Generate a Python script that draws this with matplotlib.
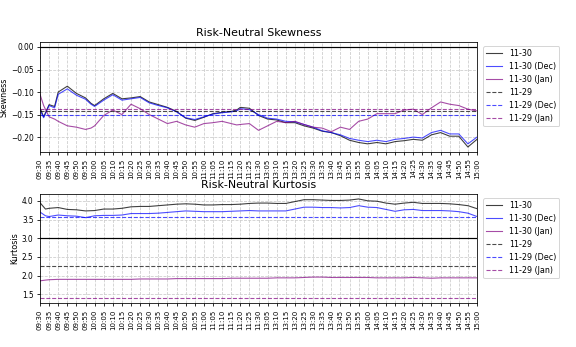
import numpy as np
import matplotlib
matplotlib.use("Agg")
import matplotlib.pyplot as plt

# time axis: 09:30-11:30 and 13:01-15:00, one point per minute, ticks every 5 min
tick_labels = ["09:30", "09:35", "09:40", "09:45", "09:50", "09:55",
               "10:00", "10:05", "10:10", "10:15", "10:20", "10:25",
               "10:30", "10:35", "10:40", "10:45", "10:50", "10:55",
               "11:00", "11:05", "11:10", "11:15", "11:20", "11:25", "11:30",
               "13:05", "13:10", "13:15", "13:20", "13:25", "13:30",
               "13:35", "13:40", "13:45", "13:50", "13:55", "14:00",
               "14:05", "14:10", "14:15", "14:20", "14:25", "14:30",
               "14:35", "14:40", "14:45", "14:50", "14:55", "15:00"]

# sample positions (minute index) and values
skew_x = [0, 2, 5, 8, 10, 15, 20, 25, 28, 30, 35, 40, 45, 50, 55, 60,
          65, 70, 75, 80, 85, 90, 95, 100, 105, 108, 110, 115, 120,
          125, 130, 135, 140, 145, 150, 155, 160, 165, 170, 175,
          180, 185, 190, 195, 200, 205, 210, 215, 220, 225, 230, 235, 240]
skew_1130 = [-0.135, -0.155, -0.128, -0.132, -0.100, -0.087, -0.103, -0.113,
             -0.125, -0.130, -0.115, -0.103, -0.115, -0.113, -0.110, -0.122,
             -0.128, -0.134, -0.143, -0.158, -0.163, -0.156, -0.148,
             -0.145, -0.143, -0.140, -0.134, -0.136, -0.152, -0.160,
             -0.162, -0.168, -0.168, -0.175, -0.180, -0.187, -0.190,
             -0.197, -0.207, -0.212, -0.215, -0.212, -0.215, -0.210,
             -0.208, -0.205, -0.207, -0.195, -0.190, -0.198, -0.198,
             -0.222, -0.205]
skew_1130_dec = [-0.140, -0.157, -0.130, -0.135, -0.105, -0.093, -0.107, -0.116,
                 -0.127, -0.132, -0.118, -0.106, -0.118, -0.115, -0.112, -0.124,
                 -0.130, -0.135, -0.144, -0.157, -0.161, -0.155, -0.149,
                 -0.146, -0.144, -0.142, -0.137, -0.139, -0.150, -0.158,
                 -0.160, -0.165, -0.166, -0.172, -0.178, -0.186, -0.190,
                 -0.195, -0.203, -0.207, -0.210, -0.207, -0.210, -0.205,
                 -0.203, -0.200, -0.202, -0.190, -0.185, -0.193, -0.193,
                 -0.215, -0.200]
skew_1130_jan = [-0.105, -0.130, -0.155, -0.160, -0.165, -0.175, -0.178, -0.183,
                 -0.180, -0.175, -0.152, -0.140, -0.150, -0.127, -0.137, -0.150,
                 -0.160, -0.170, -0.165, -0.173, -0.178, -0.170, -0.168,
                 -0.165, -0.170, -0.173, -0.172, -0.170, -0.185, -0.175,
                 -0.165, -0.168, -0.165, -0.172, -0.178, -0.180, -0.188,
                 -0.178, -0.183, -0.165, -0.160, -0.148, -0.148, -0.148,
                 -0.140, -0.138, -0.150, -0.135, -0.122, -0.127, -0.130,
                 -0.138, -0.142]
skew_1129 = -0.143
skew_1129_dec = -0.151
skew_1129_jan = -0.138

kurt_x = [0, 3, 5, 10, 15, 20, 25, 30, 35, 40, 45, 50, 55, 60, 65, 70,
          75, 80, 85, 90, 95, 100, 105, 110, 115, 120,
          125, 130, 135, 140, 145, 150, 155, 160, 165, 170, 175,
          180, 185, 190, 195, 200, 205, 210, 215, 220, 225, 230, 235, 240]
kurt_1130 = [3.95, 3.78, 3.80, 3.82, 3.77, 3.76, 3.73, 3.74, 3.78, 3.78,
             3.80, 3.84, 3.85, 3.85, 3.87, 3.89, 3.91, 3.92, 3.91, 3.89,
             3.89, 3.90, 3.90, 3.91, 3.93, 3.94, 3.94, 3.93, 3.93, 3.98,
             4.03, 4.03, 4.02, 4.01, 4.01, 4.02, 4.05, 4.00, 3.99, 3.94,
             3.91, 3.94, 3.96, 3.93, 3.93, 3.93, 3.92, 3.90, 3.87, 3.79]
kurt_1130_dec = [3.70, 3.60, 3.58, 3.62, 3.60, 3.59, 3.55, 3.60, 3.61, 3.61,
                 3.62, 3.66, 3.66, 3.66, 3.67, 3.69, 3.71, 3.73, 3.72, 3.71,
                 3.71, 3.71, 3.72, 3.73, 3.74, 3.73, 3.73, 3.73, 3.73, 3.78,
                 3.83, 3.83, 3.82, 3.82, 3.81, 3.82, 3.87, 3.83, 3.82, 3.77,
                 3.72, 3.76, 3.77, 3.74, 3.74, 3.74, 3.73, 3.71, 3.67, 3.58]
kurt_1130_jan = [1.86, 1.88, 1.89, 1.90, 1.90, 1.90, 1.90, 1.90, 1.90, 1.90,
                 1.90, 1.90, 1.91, 1.91, 1.91, 1.91, 1.92, 1.92, 1.92, 1.92,
                 1.92, 1.92, 1.93, 1.93, 1.93, 1.93, 1.93, 1.94, 1.94, 1.94,
                 1.95, 1.96, 1.96, 1.95, 1.95, 1.95, 1.95, 1.95, 1.94, 1.94,
                 1.94, 1.94, 1.95, 1.94, 1.93, 1.94, 1.94, 1.94, 1.94, 1.94]
kurt_1129 = 2.25
kurt_1129_dec = 3.58
kurt_1129_jan = 1.40

labels = ["11-30", "11-30 (Dec)", "11-30 (Jan)",
          "11-29", "11-29 (Dec)", "11-29 (Jan)"]

fig = plt.figure(figsize=(8, 347 / 72), dpi=72)
ax1 = fig.add_axes([40 / 576, 1 - 152 / 347, 437 / 576, 110 / 347])
ax2 = fig.add_axes([40 / 576, 1 - 303 / 347, 437 / 576, 109 / 347])


def draw(ax, x, s, s_dec, s_jan, h, h_dec, h_jan, ref, title, ylab):
    ax.axhline(ref, color="k", lw=1.2)
    ax.plot(x, s, color="k", lw=1.1, alpha=0.75, label=labels[0])
    ax.plot(x, s_dec, color="b", lw=1.1, alpha=0.7, label=labels[1])
    ax.plot(x, s_jan, color="purple", lw=1.1, alpha=0.7, label=labels[2])
    ax.axhline(h, color="k", ls="--", lw=1.1, alpha=0.7, label=labels[3])
    ax.axhline(h_dec, color="b", ls="--", lw=1.1, alpha=0.7, label=labels[4])
    ax.axhline(h_jan, color="purple", ls="--", lw=1.1, alpha=0.7, label=labels[5])
    ax.set_xlim(0, 240)
    ticks = list(range(0, 121, 5)) + list(range(125, 241, 5))
    ax.set_xticks(ticks)
    ax.set_xticklabels(tick_labels, rotation=90, fontsize=7)
    ax.tick_params(axis="y", labelsize=7.5)
    ax.tick_params(length=3)
    ax.grid(True, ls="--", color="#cccccc", lw=0.8)
    ax.set_title(title, fontsize=11)
    ax.set_ylabel(ylab, fontsize=8, labelpad=2)
    ax.legend(loc="upper left", bbox_to_anchor=(1.005, 1.0), fontsize=8)


draw(ax1, skew_x, skew_1130, skew_1130_dec, skew_1130_jan,
     skew_1129, skew_1129_dec, skew_1129_jan, 0.0,
     "Risk-Neutral Skewness", "Skewness")
draw(ax2, kurt_x, kurt_1130, kurt_1130_dec, kurt_1130_jan,
     kurt_1129, kurt_1129_dec, kurt_1129_jan, 3.0,
     "Risk-Neutral Kurtosis", "Kurtosis")

fig.savefig("out.png", dpi=72)
